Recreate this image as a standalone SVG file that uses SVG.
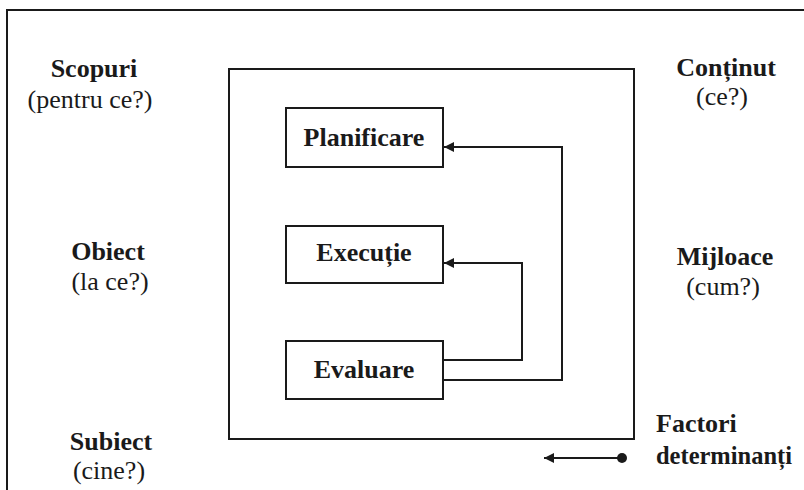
<svg xmlns="http://www.w3.org/2000/svg" width="804" height="490" viewBox="0 0 804 490">
<style>
.b{font-family:"Liberation Serif","Times New Roman",serif;font-weight:bold;font-size:26px;fill:#1a1a1a;text-anchor:middle}
.r{font-family:"Liberation Serif","Times New Roman",serif;font-size:26px;fill:#1a1a1a;text-anchor:middle}
.ln{fill:none;stroke:#1a1a1a;stroke-width:2}
.box{fill:#fff;stroke:#1a1a1a;stroke-width:2}
</style>
<defs>
<marker id="ah" viewBox="0 0 10 10" refX="10" refY="5" markerWidth="12" markerHeight="10" markerUnits="userSpaceOnUse" orient="auto">
<path d="M0,0 L10,5 L0,10 Z" fill="#1a1a1a"/>
</marker>
</defs>
<rect width="804" height="490" fill="#fff"/>
<path class="ln" d="M7,490 V10 H804"/>
<rect id="inner" class="box" x="229" y="69" width="405" height="370"/>
<g id="scopuri"><text class="b" x="94" y="77">Scopuri</text><text class="r" x="90" y="108">(pentru ce?)</text></g>
<g id="continut"><text class="b" x="726" y="76">Conținut</text><text class="r" x="722" y="105">(ce?)</text></g>
<g id="obiect"><text class="b" x="108" y="260">Obiect</text><text class="r" x="110" y="290">(la ce?)</text></g>
<g id="mijloace"><text class="b" x="725" y="265">Mijloace</text><text class="r" x="723" y="295">(cum?)</text></g>
<g id="subiect"><text class="b" x="111" y="450">Subiect</text><text class="r" x="109" y="479">(cine?)</text></g>
<g id="factori"><text class="b" x="656" y="432" style="text-anchor:start">Factori</text><text class="b" x="656" y="464" style="text-anchor:start" textLength="136" lengthAdjust="spacingAndGlyphs">determinanți</text></g>
<g id="planificare"><rect class="box" x="286" y="108" width="157" height="59"/><text class="b" x="364" y="146">Planificare</text></g>
<g id="executie"><rect class="box" x="286" y="226" width="157" height="57"/><text class="b" x="364" y="261">Execuție</text></g>
<g id="evaluare"><rect class="box" x="286" y="341" width="157" height="58"/><text class="b" x="364" y="378">Evaluare</text></g>
<g id="connectors">
<path class="ln" d="M443,380 H562 V147 H444" marker-end="url(#ah)"/>
<path class="ln" d="M443,360 H522 V263 H444" marker-end="url(#ah)"/>
<path class="ln" d="M622,458 H544" marker-end="url(#ah)"/>
<circle cx="622" cy="458" r="5" fill="#1a1a1a"/>
</g>
</svg>
